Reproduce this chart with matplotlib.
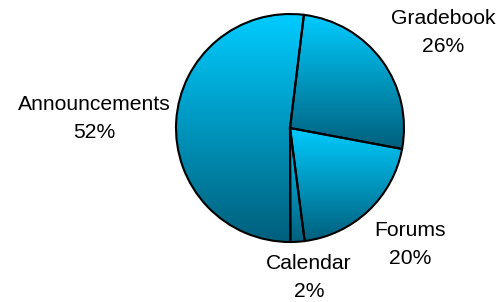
"""Pie chart of tool usage with gradient-shaded slices."""
import matplotlib.pyplot as plt
import numpy as np
from matplotlib.colors import LinearSegmentedColormap

labels = ["Gradebook", "Forums", "Calendar", "Announcements"]
shares = [26, 20, 2, 52]
# label anchor (x, baseline y) in image pixels, one per slice
label_pos = [(443, 24), (410, 236), (309, 269), (94, 110)]

W, H = 503, 302
fig = plt.figure(figsize=(W / 100, H / 100), dpi=100)
ax = fig.add_axes([0, 0, 1, 1])

cx, cy, r = 290, H - 128, 114
wedges, _ = ax.pie(shares, center=(cx, cy), radius=r, startangle=83,
                   counterclock=False, frame=True,
                   wedgeprops=dict(facecolor="none", edgecolor="black", linewidth=1.5, zorder=3))

cmap = LinearSegmentedColormap.from_list("sky", ["#005f7c", "#00ccff"])
grad = np.linspace(0, 1, 256).reshape(-1, 1)
for w in wedges:
    t = np.radians(np.linspace(w.theta1, w.theta2, 200))
    ys = np.concatenate([[cy], cy + r * np.sin(t)])
    xs = np.concatenate([[cx], cx + r * np.cos(t)])
    im = ax.imshow(grad, cmap=cmap, origin="lower", aspect="auto",
                   extent=(xs.min(), xs.max(), ys.min(), ys.max()), zorder=2)
    im.set_clip_path(w)

for name, val, (x, y) in zip(labels, shares, label_pos):
    ax.text(x, H - y, name, ha="center", va="baseline", fontsize=15.2,
            family="Liberation Sans")
    ax.text(x, H - y - 28, f"{val}%", ha="center", va="baseline", fontsize=15.2,
            family="Liberation Sans")

ax.set_xlim(0, W)
ax.set_ylim(0, H)
ax.set_aspect("equal")
ax.axis("off")
fig.savefig("out.png", dpi=100)
